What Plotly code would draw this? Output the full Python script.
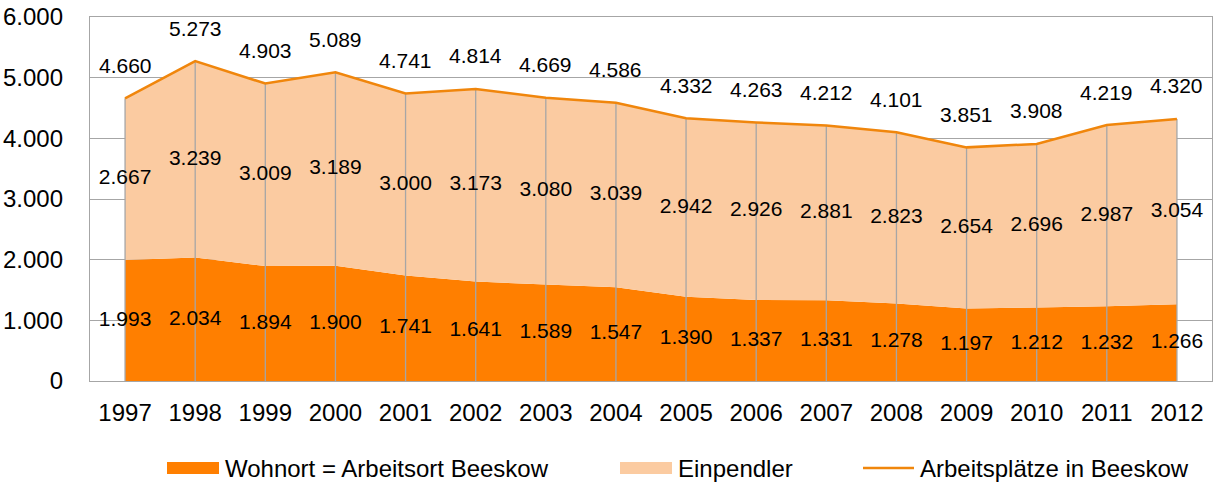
import plotly.graph_objects as go

years = [str(y) for y in range(1997, 2013)]
wohnort = [1993, 2034, 1894, 1900, 1741, 1641, 1589, 1547,
           1390, 1337, 1331, 1278, 1197, 1212, 1232, 1266]
einpendler = [2667, 3239, 3009, 3189, 3000, 3173, 3080, 3039,
              2942, 2926, 2881, 2823, 2654, 2696, 2987, 3054]
arbeitsplaetze = [4660, 5273, 4903, 5089, 4741, 4814, 4669, 4586,
                  4332, 4263, 4212, 4101, 3851, 3908, 4219, 4320]

C_DARK = "#FF7F00"
C_LIGHT = "#FBCBA1"
C_LINE = "#F0860C"
C_GRID = "#A6A6A6"
FONT = "Liberation Sans, Arial, sans-serif"

W, H = 1219, 484
L, R, T, B = 90, 1212, 17, 381  # plot area in pixels


def de(v):
    return f"{v:,}".replace(",", ".")


def px(x):
    return (x - L) / (R - L)


def py(y):
    return (B - y) / (B - T)


fig = go.Figure()

fig.add_trace(go.Scatter(
    x=years, y=wohnort, stackgroup="one", mode="none",
    fillcolor=C_DARK, showlegend=False, hoverinfo="skip",
))
fig.add_trace(go.Scatter(
    x=years, y=einpendler, stackgroup="one", mode="none",
    fillcolor=C_LIGHT, showlegend=False, hoverinfo="skip",
))

# drop lines from zero to the total at each year
dx, dy = [], []
for yr, tot in zip(years, arbeitsplaetze):
    dx += [yr, yr, None]
    dy += [0, tot, None]
fig.add_trace(go.Scatter(
    x=dx, y=dy, mode="lines", line=dict(color=C_GRID, width=1.3),
    showlegend=False, hoverinfo="skip",
))

fig.add_trace(go.Scatter(
    x=years, y=arbeitsplaetze, mode="lines",
    line=dict(color=C_LINE, width=2.5), showlegend=False,
))

# data labels
lab_font = dict(size=21, color="black", family=FONT)
fig.add_trace(go.Scatter(
    x=years, y=[w / 2 for w in wohnort], mode="text",
    text=[de(v) for v in wohnort], textfont=lab_font,
    showlegend=False, hoverinfo="skip",
))
fig.add_trace(go.Scatter(
    x=years, y=[w + e / 2 for w, e in zip(wohnort, einpendler)], mode="text",
    text=[de(v) for v in einpendler], textfont=lab_font,
    showlegend=False, hoverinfo="skip",
))
for i, tot in enumerate(arbeitsplaetze):
    fig.add_annotation(
        x=i, y=tot, text=de(tot), showarrow=False, yshift=33,
        font=lab_font,
    )

# legend drawn by hand to match the spacing of the original
legend = [
    ("rect", C_DARK, 167, 219, "Wohnort = Arbeitsort Beeskow"),
    ("rect", C_LIGHT, 620, 672, "Einpendler"),
    ("line", C_LINE, 863, 914, "Arbeitsplätze in Beeskow"),
]
ly = 468
for kind, col, x0, x1, label in legend:
    if kind == "rect":
        fig.add_shape(type="rect", xref="paper", yref="paper",
                      x0=px(x0), x1=px(x1), y0=py(ly + 6), y1=py(ly - 6),
                      fillcolor=col, line=dict(width=0))
    else:
        fig.add_shape(type="line", xref="paper", yref="paper",
                      x0=px(x0), x1=px(x1), y0=py(ly), y1=py(ly),
                      line=dict(color=col, width=2.5))
    fig.add_annotation(
        xref="paper", yref="paper", x=px(x1 + 4), y=py(ly),
        xanchor="left", yanchor="middle", text=label, showarrow=False,
        font=dict(size=24, color="black", family=FONT),
    )

fig.update_layout(
    width=W, height=H,
    margin=dict(l=L, r=W - R, t=T, b=H - B),
    paper_bgcolor="white", plot_bgcolor="white",
    separators=",.",
    font=dict(family=FONT, color="black"),
    xaxis=dict(
        type="category", range=[-0.5, 15.5], showgrid=False, automargin=False,
        showline=True, linecolor=C_GRID, linewidth=1.3, mirror=True,
        ticks="", tickfont=dict(size=24), ticklabelstandoff=10,
    ),
    yaxis=dict(
        range=[0, 6000], dtick=1000, tickformat=",d", automargin=False,
        showgrid=True, gridcolor=C_GRID, gridwidth=1.3, zeroline=False,
        showline=True, linecolor=C_GRID, linewidth=1.3, mirror=True,
        ticks="", tickfont=dict(size=24), ticklabelstandoff=21,
        ticklabeloverflow="allow",
    ),
)

# drop the default body margin so the figure fills the window exactly
fig.write_html("out.html", config={"displayModeBar": False},
               post_script="document.body.style.margin='0';")
